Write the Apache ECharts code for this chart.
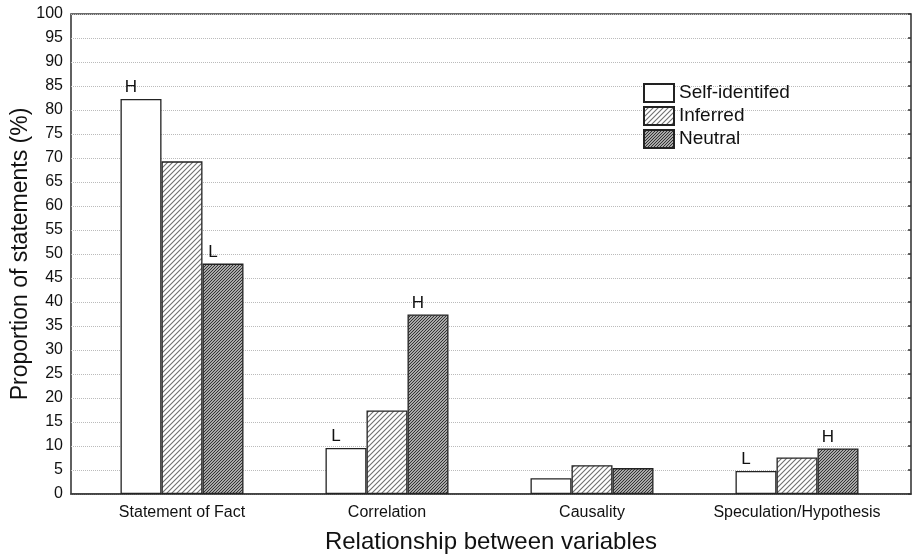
<!DOCTYPE html>
<html><head><meta charset="utf-8">
<script src="https://cdn.jsdelivr.net/npm/echarts@6/dist/echarts.min.js"></script>
<style>html,body{margin:0;padding:0;background:#fff}#c{width:912px;height:558px}</style>
</head><body><div id="c"></div>
<script>
const categories = ['Statement of Fact', 'Correlation', 'Causality', 'Speculation/Hypothesis'];
const seriesNames = ['Self-identifed', 'Inferred', 'Neutral'];
const selfIdentified = [82.3, 9.6, 3.3, 4.8];
const inferred = [69.3, 17.4, 6.0, 7.6];
const neutral = [48.0, 37.4, 5.4, 9.5];
const selfMarks = ['H', 'L', '', 'L'];
const inferredMarks = ['', '', '', ''];
const neutralMarks = ['L', 'H', '', 'H'];
const yTicks = [0, 100, 5];

function makePattern(bg, fg, size, lw) {
  const c = document.createElement('canvas');
  c.width = size; c.height = size;
  const g = c.getContext('2d');
  g.fillStyle = bg; g.fillRect(0, 0, size, size);
  g.strokeStyle = fg; g.lineWidth = lw;
  g.beginPath();
  g.moveTo(0, size); g.lineTo(size, 0);
  g.moveTo(-size, size); g.lineTo(size, -size);
  g.moveTo(0, 2 * size); g.lineTo(2 * size, 0);
  g.stroke();
  return { image: c, repeat: 'repeat' };
}
const fills = ['#ffffff', makePattern('#ffffff', '#707070', 5, 1.1), makePattern('#a8a8a8', '#333333', 3, 1.0)];
const values = [selfIdentified, inferred, neutral];
const marks = [selfMarks, inferredMarks, neutralMarks];
const FONT = '"Liberation Sans", Arial, sans-serif';

const series = seriesNames.map((n, i) => ({
  name: n, type: 'bar', xAxisIndex: 1, yAxisIndex: 2,
  barWidth: 41, barGap: '0%',
  itemStyle: { color: fills[i], borderColor: '#222', borderWidth: 1.3 },
  emphasis: { disabled: true },
  label: {
    show: true, position: 'top', distance: 3, offset: [-10, 0],
    fontFamily: FONT, fontSize: 17, color: '#111',
    formatter: p => marks[i][p.dataIndex]
  },
  data: values[i]
}));

const chart = echarts.init(document.getElementById('c'), null, { renderer: 'canvas' });
chart.setOption({
  animation: false,
  backgroundColor: '#fff',
  textStyle: { fontFamily: FONT },
  legend: {
    data: seriesNames.map(n => ({ name: n, icon: 'rect' })), orient: 'vertical', left: 638, top: 78,
    itemWidth: 30, itemHeight: 18, itemGap: 3,
    textStyle: { fontFamily: FONT, fontSize: 19, color: '#111', lineHeight: 20 },
    selectedMode: false
  },
  grid: [
    { left: 71, right: 1, top: 14, bottom: 64, outerBoundsMode: 'none', containLabel: false,
      show: true, borderColor: '#3a3a3a', borderWidth: 1.6, backgroundColor: 'transparent' },
    { left: 79.5, width: 820, top: 14, bottom: 64, outerBoundsMode: 'none', containLabel: false }
  ],
  xAxis: [
    { type: 'value', gridIndex: 0, min: 0, max: 1, axisLine: { show: true, lineStyle: { color: '#3a3a3a', width: 1.6 } },
      axisTick: { show: false }, axisLabel: { show: false }, splitLine: { show: false },
      name: 'Relationship between variables', nameLocation: 'middle', nameGap: 36, nameMoveOverlap: false,
      nameTextStyle: { fontFamily: FONT, fontSize: 24, color: '#111' } },
    { type: 'category', gridIndex: 1, data: categories, axisLine: { show: false }, axisTick: { show: false },
      axisLabel: { interval: 0, hideOverlap: false, margin: 11, fontFamily: FONT, fontSize: 16, color: '#111' } }
  ],
  yAxis: [
    { type: 'value', gridIndex: 0, min: yTicks[0], max: yTicks[1], interval: yTicks[2],
      axisLine: { show: false }, axisTick: { show: false },
      axisLabel: { margin: 8, fontFamily: FONT, fontSize: 16, color: '#111' },
      splitLine: { show: true, lineStyle: { color: '#bbbbbb', type: [1, 1], width: 1 } },
      name: 'Proportion of statements (%)', nameLocation: 'middle', nameGap: 39, nameMoveOverlap: false,
      nameTextStyle: { fontFamily: FONT, fontSize: 23, color: '#111' } },
    { type: 'value', gridIndex: 0, position: 'right', min: yTicks[0], max: yTicks[1], interval: yTicks[2],
      axisLine: { show: false }, axisTick: { show: true, inside: true, length: 3, lineStyle: { color: '#333', width: 1.5 } },
      axisLabel: { show: false }, splitLine: { show: false } },
    { type: 'value', gridIndex: 1, min: yTicks[0], max: yTicks[1], show: false }
  ],
  series: series
});
</script></body></html>
